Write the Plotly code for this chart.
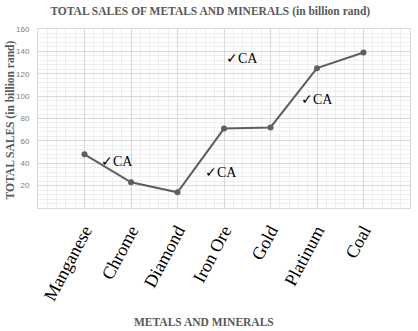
import plotly.graph_objects as go

categories = ["Manganese", "Chrome", "Diamond", "Iron Ore", "Gold", "Platinum", "Coal"]
sales = [48, 23, 14, 71, 72, 125, 139]
y_ticks = [20, 40, 60, 80, 100, 120, 140, 160]
marks_text = ["✓CA", "✓CA", "✓CA", "✓CA"]
marks_x = [0.69, 2.93, 3.38, 5.0]
marks_y = [42, 31.5, 134, 97]

xs = list(range(len(categories)))

fig = go.Figure()
fig.add_trace(go.Scatter(
    x=xs, y=sales, mode="lines+markers",
    line=dict(color="#5f5f5f", width=2),
    marker=dict(color="#5f5f5f", size=6),
    showlegend=False, hoverinfo="skip",
))

for t, ax, ay in zip(marks_text, marks_x, marks_y):
    fig.add_annotation(x=ax, y=ay, text=t, showarrow=False,
                       font=dict(family="Liberation Serif, DejaVu Serif", size=14, color="#000000"))

fig.add_annotation(xref="paper", yref="paper", x=0.445, y=-0.635, text="<b>METALS AND MINERALS</b>",
                   showarrow=False, xanchor="center", yanchor="middle",
                   font=dict(family="Liberation Serif", size=11.5, color="#595959"))

fig.add_annotation(xref="paper", yref="paper", x=-0.075, y=0.49, text="<b>TOTAL SALES (in billion rand)</b>",
                   showarrow=False, xanchor="center", yanchor="middle", textangle=-90,
                   font=dict(family="Liberation Serif", size=11.5, color="#595959"))

fig.update_layout(
    width=418, height=331,
    margin=dict(l=38, r=8, t=29, b=123),
    paper_bgcolor="white", plot_bgcolor="white",
    title=dict(text="<b>TOTAL SALES OF METALS AND MINERALS (in billion rand)</b>",
               x=0.503, xanchor="center", y=1 - 11 / 331, yanchor="middle", yref="container",
               font=dict(family="Liberation Serif", size=11.5, color="#595959")),
    xaxis=dict(
        range=[-1, 7], tickvals=xs, ticktext=categories, tickangle=-62,
        tickfont=dict(family="Liberation Serif", size=18, color="#000000"),
        showgrid=True, gridcolor="#d9d9d9", gridwidth=1,
        minor=dict(dtick=0.2, tick0=0, showgrid=True, gridcolor="#eeeeee", gridwidth=1),
        showline=True, linecolor="#d9d9d9", mirror=True, zeroline=False,
        ticks="", ticklabelstandoff=4,
    ),
    yaxis=dict(
        range=[0, 160], tickvals=y_ticks,
        tickfont=dict(family="Liberation Sans", size=8, color="#808080"),
        showgrid=True, gridcolor="#d9d9d9", gridwidth=1,
        minor=dict(dtick=4, tick0=0, showgrid=True, gridcolor="#eeeeee", gridwidth=1),
        showline=True, linecolor="#d9d9d9", mirror=True, zeroline=False,
        ticks="", ticklabelstandoff=6,
    ),
)

fig.write_html("out.html")
